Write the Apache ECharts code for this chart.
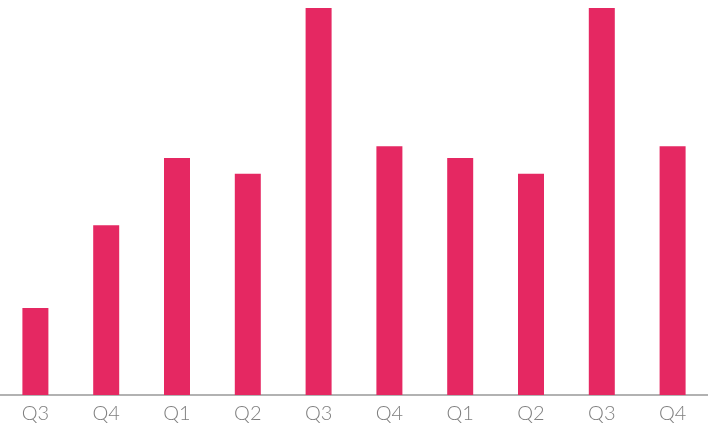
<!DOCTYPE html>
<html>
<head>
<meta charset="utf-8">
<script src="https://cdn.jsdelivr.net/npm/echarts@6/dist/echarts.min.js"></script>
<style>
html,body{margin:0;padding:0;background:#fff;}
#chart{width:708px;height:426px;}
</style>
</head>
<body>
<div id="chart"></div>
<script>
const categories = ['Q3','Q4','Q1','Q2','Q3','Q4','Q1','Q2','Q3','Q4'];
const values = [22, 43, 60, 56, 98, 63, 60, 56, 98, 63];

const chart = echarts.init(document.getElementById('chart'), null, {renderer:'canvas'});
chart.setOption({
  animation: false,
  backgroundColor: '#ffffff',
  grid: {left: 0, right: 0, top: 0, bottom: 31, containLabel: false},
  xAxis: {
    type: 'category',
    data: categories,
    axisLine: {show: true, lineStyle: {color: '#999999', width: 1.5}},
    axisTick: {show: false},
    axisLabel: {color: '#7f7f7f', fontSize: 20, fontFamily: 'Lato', fontWeight: 300, margin: 9}
  },
  yAxis: {
    type: 'value',
    min: 0,
    max: 100,
    show: false,
    splitLine: {show: false}
  },
  series: [{
    type: 'bar',
    data: values,
    barWidth: 26,
    itemStyle: {color: '#E52862'}
  }]
});
</script>
</body>
</html>
